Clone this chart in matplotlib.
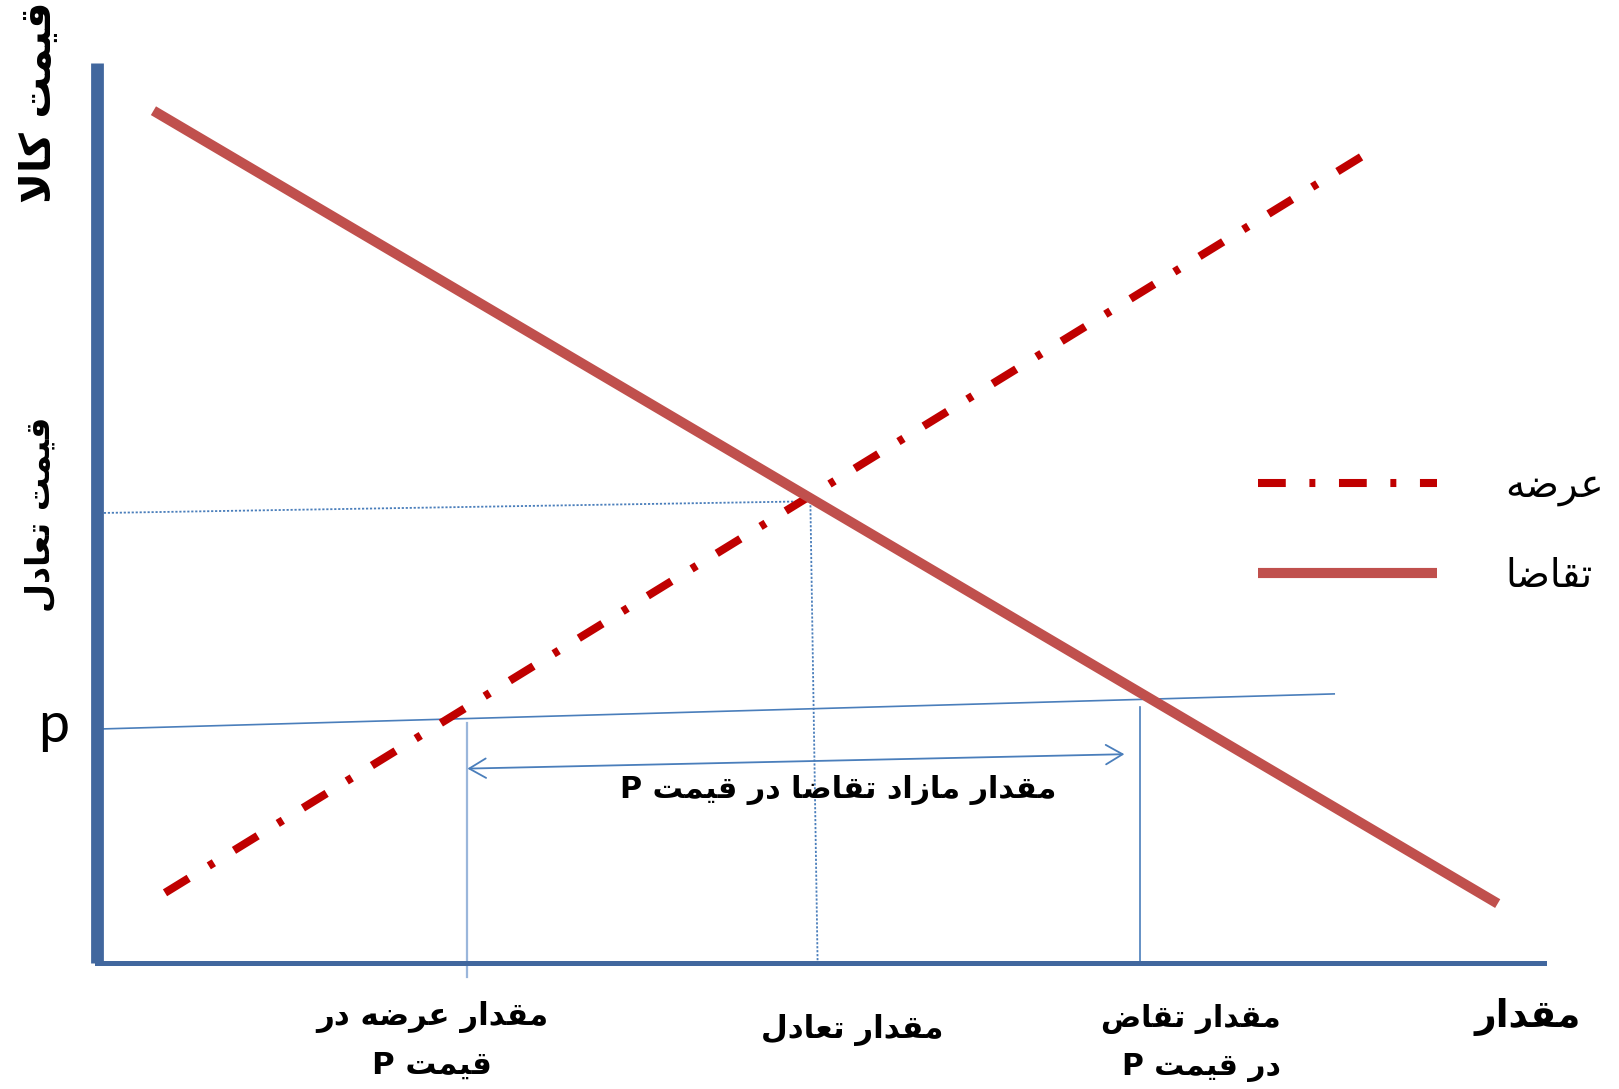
import matplotlib
matplotlib.use('Agg')
import matplotlib.pyplot as plt
from matplotlib import font_manager
from matplotlib.ft2font import FT2Font

# ---------------- data (quantity / price units) ----------------
demand_q = [3.9, 96.8]
demand_p = [94.7, 6.6]
supply_q = [4.7, 87.6]
supply_p = [7.8, 89.8]

eq_h_q = [0.2, 49.3]
eq_h_p = [50.0, 51.3]
eq_v_q = [49.3, 49.8]
eq_v_p = [51.3, 0.0]

price_line_q = [0.2, 85.5]
price_line_p = [26.0, 29.9]

qs_line_q = [25.6, 25.6]
qs_line_p = [26.7, -1.6]
qd_line_q = [72.1, 72.1]
qd_line_p = [28.4, 0.0]

surplus_arrow_q = [25.6, 71.0]
surplus_arrow_p = [21.6, 23.2]

legend_labels = ['عرضه', 'تقاضا']
y_label = 'قیمت کالا'
x_label = 'مقدار'
eq_price_label = 'قیمت تعادل'
price_tick = 'p'
q_labels = ['مقدار عرضه در\nقیمت P', 'مقدار تعادل', 'مقدار تقاض\nدر قیمت P']
surplus_label = 'مقدار مازاد تقاضا در قیمت P'

# ---------------- minimal Persian shaping ----------------
bold_path = font_manager.findfont(font_manager.FontProperties(family='DejaVu Sans', weight='bold'))
_ft = FT2Font(bold_path)


def _has(cp):
    return _ft.get_char_index(cp) != 0


FORMS = {
    'ا': (0xFE8D, 0xFE8E, None, None),
    'د': (0xFEA9, 0xFEAA, None, None),
    'ر': (0xFEAD, 0xFEAE, None, None),
    'ز': (0xFEAF, 0xFEB0, None, None),
    'ت': (0xFE95, 0xFE96, 0xFE97, 0xFE98),
    'ع': (0xFEC9, 0xFECA, 0xFECB, 0xFECC),
    'ض': (0xFEBD, 0xFEBE, 0xFEBF, 0xFEC0),
    'ق': (0xFED5, 0xFED6, 0xFED7, 0xFED8),
    'ل': (0xFEDD, 0xFEDE, 0xFEDF, 0xFEE0),
    'م': (0xFEE1, 0xFEE2, 0xFEE3, 0xFEE4),
    'ه': (0xFEE9, 0xFEEA, 0xFEEB, 0xFEEC),
    'ی': (0xFBFC, 0xFBFD, 0xFBFE, 0xFBFF),
    'ک': (0xFB8E, 0xFB8F, 0xFB90, 0xFB91),
}
FALLBACK = {
    'ی': (0xFEEF, 0xFEF0, 0xFEF3, 0xFEF4),
    'ک': (0xFED9, 0xFEDA, 0xFEDB, 0xFEDC),
}
for k, v in FALLBACK.items():
    if not all(_has(c) for c in FORMS[k]):
        FORMS[k] = v
LIG_OK = _has(0xFEFB) and _has(0xFEFC)


def _joins_next(c):
    return c in FORMS and FORMS[c][2] is not None


def shape(text):
    lines = []
    for line in text.split('\n'):
        ch = list(line)
        n = len(ch)
        res = []
        i = 0
        while i < n:
            c = ch[i]
            if c not in FORMS:
                res.append(c)
                i += 1
                continue
            pj = i > 0 and _joins_next(ch[i - 1])
            if LIG_OK and c == 'ل' and i + 1 < n and ch[i + 1] == 'ا':
                res.append(chr(0xFEFC if pj else 0xFEFB))
                i += 2
                continue
            nj = (i + 1 < n and ch[i + 1] in FORMS) and FORMS[c][2] is not None
            iso, fin, ini, med = FORMS[c]
            if pj and nj:
                g = med
            elif pj:
                g = fin
            elif nj:
                g = ini
            else:
                g = iso
            res.append(chr(g))
            i += 1
        lines.append(''.join(reversed(res)))
    return '\n'.join(lines)


# ---------------- figure ----------------
W, H = 1619, 1089
fig = plt.figure(figsize=(W / 100, H / 100), dpi=100)
fig.patch.set_facecolor('white')

ax_left, ax_right, ax_top, ax_bottom = 97, 1544, 63, 963
ax = fig.add_axes([ax_left / W, (H - ax_bottom) / H,
                   (ax_right - ax_left) / W, (ax_bottom - ax_top) / H])
ax.set_xlim(0, 100)
ax.set_ylim(0, 100)
ax.set_xticks([])
ax.set_yticks([])
ax.set_facecolor('none')
for s in ['top', 'right']:
    ax.spines[s].set_visible(False)
axis_col = '#41679e'
ax.spines['left'].set_color(axis_col)
ax.spines['left'].set_linewidth(9.2)
ax.spines['left'].set_capstyle('butt')
ax.spines['bottom'].set_color(axis_col)
ax.spines['bottom'].set_linewidth(3.6)

thin_col = '#4a7ebb'
ax.plot(eq_h_q, eq_h_p, color=thin_col, lw=1.3, ls=(0, (1.2, 1.0)), zorder=2)
ax.plot(eq_v_q, eq_v_p, color=thin_col, lw=1.3, ls=(0, (1.2, 1.0)), zorder=2)
ax.plot(price_line_q, price_line_p, color=thin_col, lw=1.2, zorder=2, clip_on=False)
ax.plot(qs_line_q, qs_line_p, color='#9ab6db', lw=1.6, zorder=2, clip_on=False)
ax.plot(qd_line_q, qd_line_p, color=thin_col, lw=1.2, zorder=2, clip_on=False)

ax.annotate('', xy=(surplus_arrow_q[1], surplus_arrow_p[1]),
            xytext=(surplus_arrow_q[0], surplus_arrow_p[0]),
            arrowprops=dict(arrowstyle='<->,head_length=0.6,head_width=0.35',
                            color=thin_col, lw=1.3, shrinkA=0, shrinkB=0,
                            mutation_scale=20))

plt.rcParams['lines.scale_dashes'] = False
supply_line, = ax.plot(supply_q, supply_p, color='#c00000', lw=5.8,
                       dashes=(20, 17, 4.3, 17), dash_capstyle='butt',
                       solid_capstyle='butt', zorder=3, clip_on=False)
demand_line, = ax.plot(demand_q, demand_p, color='#c0504d', lw=7.3,
                       solid_capstyle='butt', zorder=4, clip_on=False)

fa = ['DejaVu Sans']
leg = ax.legend([supply_line, demand_line], [shape(t) for t in legend_labels],
                loc='center left', bbox_to_anchor=(1258 / W, 1 - 531 / H),
                bbox_transform=fig.transFigure, frameon=False,
                prop=dict(family=fa, size=28), handlelength=4.6,
                handletextpad=1.75, labelspacing=1.3, borderpad=0,
                borderaxespad=0)

# ---------------- texts ----------------
tkw = dict(family=fa, color='black', clip_on=False)
ax.text(-4.0, 95.6, shape(y_label), rotation=90, ha='center', va='center',
        fontsize=30, fontweight='bold', **tkw)
ax.text(-4.0, 49.8, shape(eq_price_label), rotation=90, ha='center', va='center',
        fontsize=24, fontweight='bold', **tkw)
ax.text(-3.0, 26.3, price_tick, ha='center', va='center', fontsize=40,
        family=['Lato', 'DejaVu Sans'], color='black', clip_on=False)
ax.text(51.2, 19.2, shape(surplus_label), ha='center', va='center',
        fontsize=21.8, fontweight='bold', **tkw)
ax.text(23.15, -8.6, shape(q_labels[0]), ha='center', va='center',
        multialignment='center', fontsize=22.2, fontweight='bold',
        linespacing=1.75, **tkw)
ax.text(52.2, -7.4, shape(q_labels[1]), ha='center', va='center',
        fontsize=22.3, fontweight='bold', **tkw)
ax.text(81.8, -8.9, shape(q_labels[2]), ha='right', va='center',
        multialignment='right', fontsize=21.5, fontweight='bold',
        linespacing=1.75, **tkw)
ax.text(98.9, -6.0, shape(x_label), ha='center', va='center',
        fontsize=27, fontweight='bold', **tkw)

fig.savefig('out.png', dpi=100)
